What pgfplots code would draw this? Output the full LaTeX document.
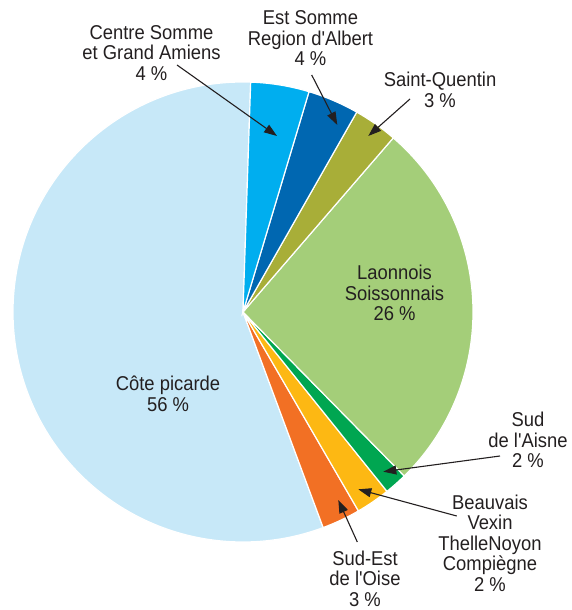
\documentclass[border=0pt]{standalone}
\usepackage{fontspec}
\setmainfont{Liberation Sans}[FakeStretch=0.92, Ligatures=TeXOff]
\usepackage{pgfplots}
\usepackage{pgfplotstable}
\pgfplotsset{compat=1.18}
\usetikzlibrary{arrows.meta}

\definecolor{sl0}{RGB}{199,232,248}% Cote picarde
\definecolor{sl1}{RGB}{242,112,36}% Sud-Est de l'Oise
\definecolor{sl2}{RGB}{253,184,19}% Beauvais
\definecolor{sl3}{RGB}{0,166,81}% Sud de l'Aisne
\definecolor{sl4}{RGB}{164,206,121}% Laonnois
\definecolor{sl5}{RGB}{168,174,56}% Saint-Quentin
\definecolor{sl6}{RGB}{0,103,177}% Est Somme
\definecolor{sl7}{RGB}{0,174,239}% Centre Somme
\definecolor{txt}{RGB}{35,31,32}

\pgfplotstableread{
name value
cote 56.2
sudest 2.7
beauvais 2.4
sudaisne 1.6
laonnois 26.3
stquentin 3.1
estsomme 3.6
centre 4.1
}\piedata

\def\cur{88.08}
\pgfplotstableforeachcolumnelement{value}\of\piedata\as\v{%
  \pgfmathsetmacro\nxt{\cur+3.6*\v}%
  \expandafter\xdef\csname sa\pgfplotstablerow\endcsname{\cur}%
  \expandafter\xdef\csname ea\pgfplotstablerow\endcsname{\nxt}%
  \xdef\cur{\nxt}%
}

\begin{document}
\begin{tikzpicture}
\begin{axis}[x=1pt, y=1pt, xmin=0, xmax=572, ymin=0, ymax=610,
  hide axis, scale only axis, clip=false]
\coordinate (ll) at (axis cs:0,0);
\coordinate (ur) at (axis cs:572,610);
\pgfplotsinvokeforeach{0,...,7}{
  \filldraw[fill=sl#1, draw=white, line width=1.2pt]
    (axis cs:243,298) -- ++(\csname sa#1\endcsname:230pt)
    arc[start angle=\csname sa#1\endcsname, end angle=\csname ea#1\endcsname, radius=230pt] -- cycle;
}
\tikzset{lbl/.style={align=center, inner sep=0pt, text=txt, font=\fontsize{20}{20.5}\selectfont},
  arr/.style={draw=txt, line width=1.1pt, -{Triangle[length=13pt,width=9pt]}}}
\draw[arr] (axis cs:177,545) -- (axis cs:277,474);
\draw[arr] (axis cs:311.7,535) -- (axis cs:337.3,485);
\draw[arr] (axis cs:410,511) -- (axis cs:368.3,474);
\draw[arr] (axis cs:500,154) -- (axis cs:383.3,138.3);
\draw[arr] (axis cs:456.7,94) -- (axis cs:358.3,120.7);
\draw[arr] (axis cs:357.3,68) -- (axis cs:338.3,110);
\node[lbl] at (axis cs:151.5,557) {Centre Somme\\et Grand Amiens\\4 \%};
\node[lbl] at (axis cs:310.5,571.7) {Est Somme\\Region d'Albert\\4 \%};
\node[lbl] at (axis cs:440,520) {Saint-Quentin\\3 \%};
\node[lbl] at (axis cs:394.5,317) {Laonnois\\Soissonnais\\26 \%};
\node[lbl] at (axis cs:168,216) {Côte picarde\\56 \%};
\node[lbl] at (axis cs:528,170) {Sud\\de l'Aisne\\2 \%};
\node[lbl] at (axis cs:490,67) {Beauvais\\Vexin\\ThelleNoyon\\Compiègne\\2 \%};
\node[lbl] at (axis cs:365,31.5) {Sud-Est\\de l'Oise\\3 \%};
\end{axis}
\pgfresetboundingbox
\path (ll) rectangle (ur);
\end{tikzpicture}
\end{document}
